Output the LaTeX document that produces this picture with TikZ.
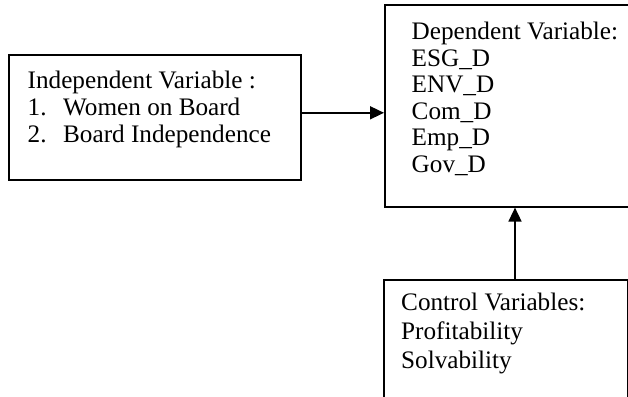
\documentclass[tikz,border=0pt]{standalone}
\usepackage{fontspec}
\setmainfont{Liberation Serif}
\usetikzlibrary{arrows.meta}
\begin{document}
\begin{tikzpicture}[x=1pt,y=-1pt,
  box/.style={draw, line width=1.6pt, rectangle, inner sep=0pt, anchor=north west},
  txt/.style={inner sep=0pt, anchor=base west, font=\fontsize{25.2}{27}\selectfont},
  arr/.style={line width=1.6pt, -{Triangle[length=14pt,width=13pt]}}]
\useasboundingbox (0,0) rectangle (628,396);
\clip (0,0) rectangle (628,396);
% boxes
\node[box, minimum width=292pt, minimum height=125pt] (ind) at (8,54) {};
\node[box, minimum width=290pt, minimum height=202pt] (dep) at (384,4) {};
\node[box, minimum width=244pt, minimum height=150pt] (ctl) at (383,279) {};
% texts
\node[txt] (indt) at (27.5,88) {\vtop{\baselineskip=27.2pt
  \hbox{Independent Variable :}
  \hbox{\makebox[35.5pt][l]{1.}Women on Board}
  \hbox{\makebox[35.5pt][l]{2.}Board Independence}}};
\node[txt] (dept) at (411.5,40) {\vtop{\baselineskip=26.4pt
  \hbox{Dependent Variable:}
  \hbox{ESG\_D}
  \hbox{ENV\_D}
  \hbox{Com\_D}
  \hbox{Emp\_D}
  \hbox{Gov\_D}}};
\node[txt] (ctlt) at (401,310.7) {\vtop{\baselineskip=28.7pt
  \hbox{Control Variables:}
  \hbox{Profitability}
  \hbox{Solvability}}};
% connectors
\coordinate (ha) at ([yshift=4.5pt]ind.east);
\draw[arr] (ha) -- (ha -| dep.west);
\coordinate (vx) at (515,0);
\draw[arr] (ctl.north -| vx) -- (dep.south -| vx);
\end{tikzpicture}
\end{document}
